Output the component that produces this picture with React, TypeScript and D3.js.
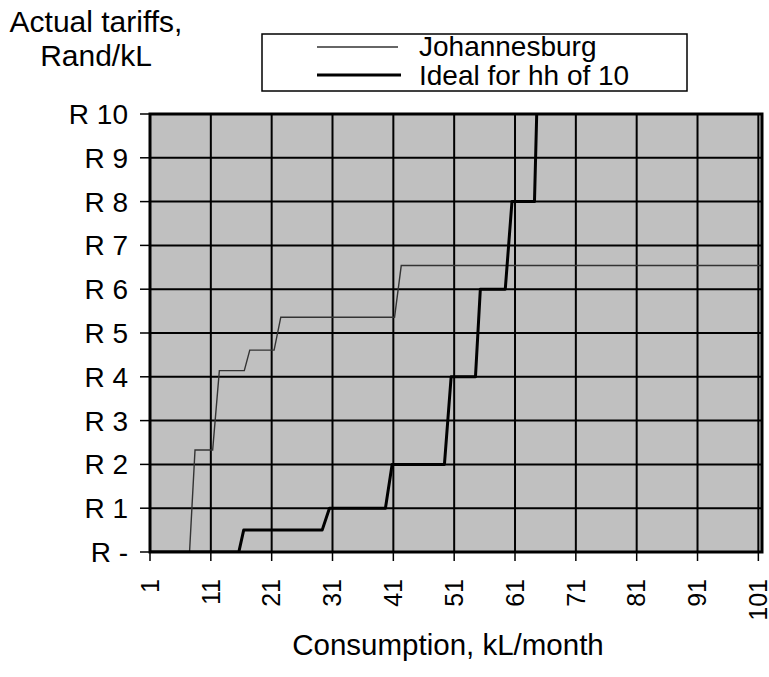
import * as d3 from 'd3';

// consumption (kL/month) where each step corner sits, and the tariff there (Rand/kL)
const joburgX = [1, 7.5, 8.4, 11.3, 12.4, 16.5, 17.4, 21.4, 22.5, 41.2, 42.3, 101.6];
const joburgY = [0, 0, 2.33, 2.33, 4.14, 4.14, 4.61, 4.61, 5.36, 5.36, 6.54, 6.54];

const idealX = [1, 15.6, 16.4, 29.3, 30.5, 39.7, 40.8, 49.4, 50.5, 54.5, 55.3, 59.4, 60.5, 64.2, 65.3];
const idealY = [0, 0, 0.5, 0.5, 1, 1, 2, 2, 4, 4, 6, 6, 8, 8, 14];

const xTicks = [1, 11, 21, 31, 41, 51, 61, 71, 81, 91, 101];
const yTicks = [0, 1, 2, 3, 4, 5, 6, 7, 8, 9, 10];
const yTickLabels = ['R -', 'R 1', 'R 2', 'R 3', 'R 4', 'R 5', 'R 6', 'R 7', 'R 8', 'R 9', 'R 10'];

const seriesNames = ['Johannesburg', 'Ideal for hh of 10'];

export default function App() {
    const width = 769;
    const height = 677;

    const margins = {
        top: 114,
        bottom: 125,
        left: 150,
        right: 7,
    };

    const font = '"Liberation Sans", Arial, Helvetica, sans-serif';

    const xScale = d3
        .scaleLinear()
        .domain([1, 101.6])
        .range([margins.left, width - margins.right]);

    const yScale = d3
        .scaleLinear()
        .domain([0, 10])
        .range([height - margins.bottom, margins.top]);

    const line = d3
        .line<[number, number]>()
        .x((d) => xScale(d[0]))
        .y((d) => yScale(d[1]));

    const joburg = joburgX.map((x, i) => [x, joburgY[i]] as [number, number]);
    const ideal = idealX.map((x, i) => [x, idealY[i]] as [number, number]);

    const x0 = xScale.range()[0];
    const x1 = xScale.range()[1];
    const y0 = yScale.range()[0];
    const y1 = yScale.range()[1];

    return (
        <svg
            width={width}
            height={height}
            viewBox={`0 0 ${width} ${height}`}
            style={{ position: 'absolute', left: 0, top: 0, background: '#fff' }}
            fontFamily={font}
        >
            <defs>
                <clipPath id='plot'>
                    <rect x={x0} y={y1} width={x1 - x0} height={y0 - y1} />
                </clipPath>
            </defs>

            {/* axis title top left */}
            <text x={96} y={32} textAnchor='middle' fontSize={30} fill='#000'>
                Actual tariffs,
            </text>
            <text x={96} y={66} textAnchor='middle' fontSize={30} fill='#000'>
                Rand/kL
            </text>

            {/* legend */}
            <g>
                <rect x={262} y={34} width={425} height={57} fill='#fff' stroke='#000' strokeWidth={1.5} />
                <line x1={317} x2={398} y1={47} y2={47} stroke='#333' strokeWidth={1.5} />
                <line x1={317} x2={401} y1={75} y2={75} stroke='#000' strokeWidth={3} />
                <text x={419} y={56} fontSize={28} fill='#000'>
                    {seriesNames[0]}
                </text>
                <text x={419} y={85} fontSize={28} fill='#000'>
                    {seriesNames[1]}
                </text>
            </g>

            {/* plot background */}
            <rect x={x0} y={y1} width={x1 - x0} height={y0 - y1} fill='#c0c0c0' />

            {/* grid */}
            {yTicks.map((t) => (
                <line key={'gy' + t} x1={x0} x2={x1} y1={yScale(t)} y2={yScale(t)} stroke='#000' strokeWidth={2} />
            ))}
            {xTicks.map((t) => (
                <line key={'gx' + t} x1={xScale(t)} x2={xScale(t)} y1={y1} y2={y0} stroke='#000' strokeWidth={2} />
            ))}

            {/* series */}
            <g clipPath='url(#plot)'>
                <path d={line(joburg) ?? ''} fill='none' stroke='#333' strokeWidth={1.4} />
                <path d={line(ideal) ?? ''} fill='none' stroke='#000' strokeWidth={3} strokeLinejoin='round' />
            </g>

            {/* border */}
            <rect x={x0} y={y1} width={x1 - x0} height={y0 - y1} fill='none' stroke='#000' strokeWidth={3} />

            {/* y axis */}
            {yTicks.map((t, i) => (
                <g key={'yt' + t} transform={`translate(0, ${yScale(t)})`}>
                    <line x1={x0 - 10} x2={x0} stroke='#000' strokeWidth={1.5} />
                    <text x={128} dy='0.36em' textAnchor='end' fontSize={28} fill='#000'>
                        {yTickLabels[i]}
                    </text>
                </g>
            ))}

            {/* x axis */}
            {xTicks.map((t) => (
                <g key={'xt' + t} transform={`translate(${xScale(t)}, 0)`}>
                    <line y1={y0} y2={y0 + 9} stroke='#000' strokeWidth={1.5} />
                    <text
                        transform={`translate(0, ${y0 + 27}) rotate(-90)`}
                        dy='0.35em'
                        textAnchor='end'
                        fontSize={25}
                        fill='#000'
                    >
                        {t}
                    </text>
                </g>
            ))}

            <text x={448} y={655} textAnchor='middle' fontSize={29.5} fill='#000'>
                Consumption, kL/month
            </text>
        </svg>
    );
}
